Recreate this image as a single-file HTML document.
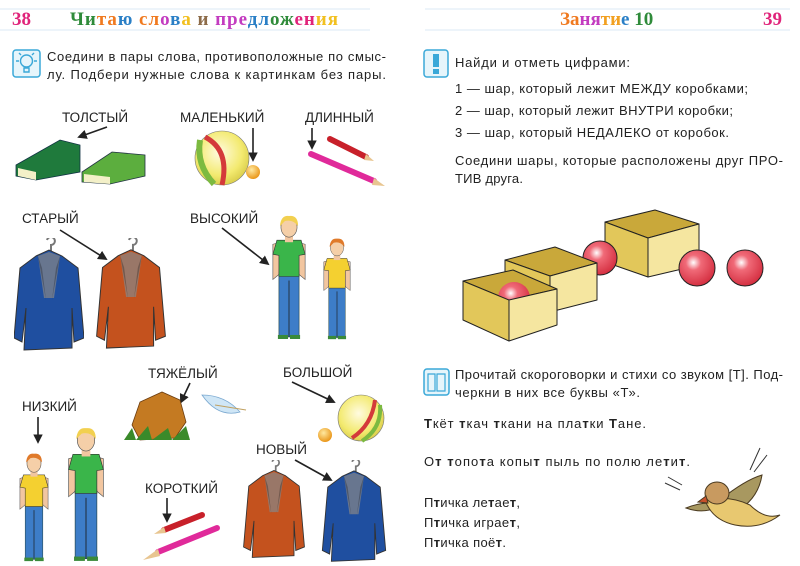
<!DOCTYPE html>
<html><head><meta charset="utf-8"><style>
html,body{margin:0;padding:0;background:#fff;}
svg{display:block;}
text{font-family:"Liberation Sans","Noto Sans CJK SC",sans-serif;}
.t{font-size:13px;fill:#222;}
.l{font-size:13.5px;fill:#222;}
.h{font-family:"Liberation Serif","Noto Serif CJK SC",serif;font-weight:bold;font-size:19px;}
.a{stroke:#222;stroke-width:1.6;fill:none;marker-end:url(#ar);}
</style></head><body>
<svg width="800" height="566" viewBox="0 0 800 566" xmlns="http://www.w3.org/2000/svg">
<defs>
<marker id="ar" viewBox="0 0 10 10" refX="8" refY="5" markerWidth="6" markerHeight="6" orient="auto"><path d="M0,0L10,5L0,10z" fill="#222"/></marker>
<radialGradient id="rb" cx="0.4" cy="0.35" r="0.7"><stop offset="0" stop-color="#fff"/><stop offset="0.3" stop-color="#f06a78"/><stop offset="1" stop-color="#d22a3c"/></radialGradient>
<radialGradient id="yb" cx="0.45" cy="0.4" r="0.7"><stop offset="0" stop-color="#fffbe0"/><stop offset="0.6" stop-color="#f3ea70"/><stop offset="1" stop-color="#cfc13a"/></radialGradient>
<radialGradient id="ob" cx="0.4" cy="0.35" r="0.7"><stop offset="0" stop-color="#ffe9a0"/><stop offset="1" stop-color="#e8900f"/></radialGradient>
<symbol id="jacket" viewBox="0 0 70 115">
<path d="M33,2 a4,4 0 1 1 4,5 v6" stroke="#777" stroke-width="2" fill="none"/>
<path d="M22,18 L35,12 L48,18 L64,30 L70,100 L60,104 L58,70 L58,110 L10,112 L12,70 L8,104 L0,100 L6,30 Z" fill="currentColor" stroke="#333" stroke-width="1"/>
<path d="M24,18 L35,14 L46,18 L40,60 L30,60 Z" fill="#888" opacity="0.7"/>
<path d="M24,18 L32,62 L28,30Z M46,18 L38,62 L42,30Z" fill="#000" opacity="0.25"/>
</symbol>
<symbol id="boy" viewBox="0 0 40 125">
<path d="M4,30 L12,28 L10,60 L4,65 Z M36,30 L28,28 L30,60 L36,65Z" fill="#f2c6a0" stroke="#555" stroke-width="0.6"/>
<rect x="10" y="60" width="20" height="62" fill="#3d7dc8" stroke="#244" stroke-width="0.6"/>
<line x1="20" y1="66" x2="20" y2="122" stroke="#234" stroke-width="1"/>
<path d="M8,26 L32,26 L36,40 L30,41 L30,62 L10,62 L10,41 L4,40 Z" fill="var(--sh)" stroke="#333" stroke-width="0.6"/>
<rect x="16" y="20" width="8" height="8" fill="#f2c6a0"/>
<ellipse cx="20" cy="13" rx="8" ry="10" fill="#f5cfa8" stroke="#555" stroke-width="0.6"/>
<path d="M11,12 Q12,1 20,2 Q29,1 29,12 Q24,5 16,7 Z" fill="var(--hr)"/>
<rect x="9" y="120" width="10" height="4" fill="#3a8a3a"/><rect x="21" y="120" width="10" height="4" fill="#3a8a3a"/>
</symbol>
</defs>

<g stroke="#cfe2f0" stroke-width="0.8">
<line x1="0" y1="9" x2="370" y2="9"/><line x1="0" y1="30" x2="370" y2="30"/>
<line x1="425" y1="9" x2="790" y2="9"/><line x1="425" y1="30" x2="790" y2="30"/>
</g>
<text x="12" y="25" class="h" fill="#e0247a">38</text>
<text x="70" y="25" class="h" textLength="268" lengthAdjust="spacing"><tspan fill="#2f8b3a">Чи</tspan><tspan fill="#f07a20">та</tspan><tspan fill="#2a7fc6">ю</tspan> <tspan fill="#f07a20">сл</tspan><tspan fill="#c33cc0">о</tspan><tspan fill="#2a7fc6">в</tspan><tspan fill="#f2c020">а</tspan> <tspan fill="#8d6c4a">и</tspan> <tspan fill="#c33cc0">пре</tspan><tspan fill="#2a7fc6">дл</tspan><tspan fill="#2f8b3a">ож</tspan><tspan fill="#e0247a">ен</tspan><tspan fill="#f2c020">ия</tspan></text>
<text x="560" y="25" class="h"><tspan fill="#f07a20">За</tspan><tspan fill="#c33cc0">ня</tspan><tspan fill="#f2a020">ти</tspan><tspan fill="#2a7fc6">е</tspan> <tspan fill="#2f8b3a">10</tspan></text>
<text x="763" y="25" class="h" fill="#e0247a">39</text>

<rect x="13" y="50" width="27" height="27" rx="3" fill="#e6f5fb" stroke="#3aa8d8" stroke-width="1.5"/>
<circle cx="26.5" cy="61" r="6" fill="none" stroke="#3aa8d8" stroke-width="1.4"/>
<path d="M24,68 h5 v4 h-5z M16,61h3 M34,61h3 M19,53l2,2 M34,53l-2,2" stroke="#3aa8d8" stroke-width="1.4" fill="none"/>
<text x="47" y="61" class="t" textLength="339" lengthAdjust="spacing">Соедини в пары слова, противоположные по смыс-</text>
<text x="47" y="79" class="t" textLength="339" lengthAdjust="spacing">лу. Подбери нужные слова к картинкам без пары.</text>

<text x="62" y="122" class="l">ТОЛСТЫЙ</text>
<text x="180" y="122" class="l">МАЛЕНЬКИЙ</text>
<text x="305" y="122" class="l">ДЛИННЫЙ</text>
<text x="22" y="223" class="l">СТАРЫЙ</text>
<text x="190" y="223" class="l">ВЫСОКИЙ</text>
<text x="148" y="378" class="l">ТЯЖЁЛЫЙ</text>
<text x="283" y="377" class="l">БОЛЬШОЙ</text>
<text x="22" y="411" class="l">НИЗКИЙ</text>
<text x="256" y="454" class="l">НОВЫЙ</text>
<text x="145" y="493" class="l">КОРОТКИЙ</text>

<line x1="107" y1="127" x2="79" y2="137" class="a"/>
<line x1="253" y1="128" x2="253" y2="160" class="a"/>
<line x1="312" y1="128" x2="312" y2="148" class="a"/>
<line x1="60" y1="230" x2="106" y2="259" class="a"/>
<line x1="222" y1="228" x2="268" y2="264" class="a"/>
<line x1="38" y1="417" x2="38" y2="442" class="a"/>
<line x1="190" y1="383" x2="181" y2="402" class="a"/>
<line x1="292" y1="382" x2="334" y2="402" class="a"/>
<line x1="295" y1="460" x2="331" y2="480" class="a"/>
<line x1="167" y1="498" x2="167" y2="521" class="a"/>

<path d="M16,165 L60,140 L80,145 L80,172 L36,180 L16,176Z" fill="#1f7a3c" stroke="#134" stroke-width="0.8"/>
<path d="M18,168 L36,172 L36,180 L18,176Z" fill="#f3f0c8"/>
<path d="M82,172 L112,152 L145,155 L145,176 L110,184 L82,182Z" fill="#5cae3e" stroke="#234" stroke-width="0.8"/>
<path d="M84,174 L110,177 L110,184 L84,182Z" fill="#f3f0c8"/>

<circle cx="222" cy="158" r="27" fill="url(#yb)" stroke="#777" stroke-width="0.6"/>
<path d="M205,137 Q230,150 222,185" stroke="#d43a3a" stroke-width="5" fill="none"/>
<path d="M200,140 Q196,165 214,184" stroke="#7cba40" stroke-width="6" fill="none"/>
<circle cx="253" cy="172" r="7" fill="url(#ob)"/>

<line x1="330" y1="139" x2="366" y2="157" stroke="#c8202a" stroke-width="6" stroke-linecap="round"/>
<path d="M366,154 L374,161 L364,160Z" fill="#e8c590"/>
<line x1="311" y1="154" x2="374" y2="181" stroke="#e02a9a" stroke-width="6" stroke-linecap="round"/>
<path d="M374,178 L385,186 L372,185Z" fill="#e8c590"/>

<use href="#jacket" x="14" y="238" width="70" height="115" style="color:#1f4fa0"/>
<use href="#jacket" x="93" y="238" width="76" height="113" style="color:#c4521e"/>
<use href="#boy" x="268" y="214" width="42" height="126" style="--sh:#3ab54a;--hr:#f2d050"/>
<use href="#boy" x="317" y="237" width="40" height="103" style="--sh:#f4d030;--hr:#e07a2a"/>

<path d="M132,425 L140,402 L162,392 L180,400 L186,422 L175,438 L140,440Z" fill="#c47a22" stroke="#6a3c10" stroke-width="0.8"/>
<path d="M124,440 L132,428 L136,440 L148,426 L152,440 L168,428 L172,440 L186,426 L190,440Z" fill="#3a8a2a"/>
<path d="M202,395 Q225,395 240,412 Q218,418 202,395Z" fill="#cfe6f6" stroke="#7aa8d0" stroke-width="0.8"/>
<line x1="215" y1="405" x2="246" y2="410" stroke="#c0a060" stroke-width="1"/>

<circle cx="361" cy="418" r="23" fill="url(#yb)" stroke="#777" stroke-width="0.6"/>
<path d="M375,400 Q372,425 352,438" stroke="#d43a3a" stroke-width="4" fill="none"/>
<path d="M380,405 Q382,428 362,441" stroke="#7cba40" stroke-width="4" fill="none"/>
<circle cx="325" cy="435" r="7" fill="url(#ob)"/>

<use href="#boy" x="13" y="452" width="42" height="110" style="--sh:#f4d030;--hr:#e07a2a"/>
<use href="#boy" x="64" y="426" width="44" height="136" style="--sh:#3ab54a;--hr:#f2d050"/>

<line x1="202" y1="515" x2="164" y2="530" stroke="#c8202a" stroke-width="6" stroke-linecap="round"/>
<path d="M164,527 L154,534 L166,533Z" fill="#e8c590"/>
<line x1="217" y1="528" x2="158" y2="552" stroke="#e02a9a" stroke-width="6" stroke-linecap="round"/>
<path d="M158,549 L143,560 L160,556Z" fill="#e8c590"/>

<use href="#jacket" x="242" y="460" width="64" height="100" style="color:#c4521e"/>
<use href="#jacket" x="320" y="460" width="68" height="104" style="color:#1f4fa0"/>

<rect x="424" y="50" width="24" height="27" rx="3" fill="#e6f5fb" stroke="#3aa8d8" stroke-width="1.5"/>
<rect x="433" y="54" width="6" height="13" fill="#3aa8d8"/><rect x="433" y="69" width="6" height="5" fill="#3aa8d8"/>
<text x="455" y="67" class="t" textLength="175" lengthAdjust="spacing">Найди и отметь цифрами:</text>
<text x="455" y="93" class="t" textLength="293" lengthAdjust="spacing">1 — шар, который лежит МЕЖДУ коробками;</text>
<text x="455" y="115" class="t" textLength="278" lengthAdjust="spacing">2 — шар, который лежит ВНУТРИ коробки;</text>
<text x="455" y="137" class="t" textLength="274" lengthAdjust="spacing">3 — шар, который НЕДАЛЕКО от коробок.</text>
<text x="455" y="165" class="t" textLength="328" lengthAdjust="spacing">Соедини шары, которые расположены друг ПРО-</text>
<text x="455" y="183" class="t" textLength="68" lengthAdjust="spacing">ТИВ друга.</text>

<g stroke="#222" stroke-width="1" stroke-linejoin="round">
<path d="M605,222 L655,210 L699,224 L648,238Z" fill="#c9a83a"/>
<path d="M605,222 L648,238 L648,277 L605,262Z" fill="#e2c75a"/>
<path d="M648,238 L699,224 L699,265 L648,277Z" fill="#f5e6a0"/>
<circle cx="600" cy="258" r="17" fill="url(#rb)"/>
<path d="M505,260 L555,247 L597,263 L550,276Z" fill="#c9a83a"/>
<path d="M505,260 L550,276 L550,312 L505,296Z" fill="#e2c75a"/>
<path d="M550,276 L597,263 L597,300 L550,312Z" fill="#f5e6a0"/>
<path d="M463,281 L513,270 L557,289 L509,300Z" fill="#c9a83a"/>
<circle cx="514" cy="298" r="16" fill="url(#rb)" stroke="none"/>
<path d="M463,281 L509,300 L509,341 L463,320Z" fill="#e2c75a"/>
<path d="M509,300 L557,289 L557,325 L509,341Z" fill="#f5e6a0"/>
<circle cx="697" cy="268" r="18" fill="url(#rb)"/>
<circle cx="745" cy="268" r="18" fill="url(#rb)"/>
</g>

<rect x="424" y="369" width="25" height="26" rx="3" fill="#e6f5fb" stroke="#3aa8d8" stroke-width="1.5"/>
<path d="M428,374 h7 v17 h-7z M437,374 h8 v17 h-8z" fill="none" stroke="#3aa8d8" stroke-width="1.2"/>
<text x="455" y="379" class="t" textLength="328" lengthAdjust="spacing">Прочитай скороговорки и стихи со звуком [Т]. Под-</text>
<text x="455" y="397" class="t" textLength="185" lengthAdjust="spacing">черкни в них все буквы «Т».</text>
<text x="424" y="428" class="t" textLength="222" lengthAdjust="spacing"><tspan font-weight="bold">Т</tspan>кёт <tspan font-weight="bold">т</tspan>кач <tspan font-weight="bold">т</tspan>кани на пла<tspan font-weight="bold">т</tspan>ки <tspan font-weight="bold">Т</tspan>ане.</text>
<text x="424" y="466" class="t" textLength="266" lengthAdjust="spacing">О<tspan font-weight="bold">т</tspan> <tspan font-weight="bold">т</tspan>опо<tspan font-weight="bold">т</tspan>а копы<tspan font-weight="bold">т</tspan> пыль по полю ле<tspan font-weight="bold">т</tspan>и<tspan font-weight="bold">т</tspan>.</text>
<text x="424" y="507" class="t" textLength="96" lengthAdjust="spacing">П<tspan font-weight="bold">т</tspan>ичка ле<tspan font-weight="bold">т</tspan>ае<tspan font-weight="bold">т</tspan>,</text>
<text x="424" y="527" class="t" textLength="96" lengthAdjust="spacing">П<tspan font-weight="bold">т</tspan>ичка играе<tspan font-weight="bold">т</tspan>,</text>
<text x="424" y="547" class="t" textLength="82" lengthAdjust="spacing">П<tspan font-weight="bold">т</tspan>ичка поё<tspan font-weight="bold">т</tspan>.</text>

<g stroke="#4a3a20" stroke-width="1">
<path d="M720,500 Q745,480 762,475 Q758,500 735,512Z" fill="#a89860"/>
<path d="M686,508 Q705,500 722,505 Q705,515 686,508Z" fill="#a89860"/>
<path d="M705,500 Q730,495 750,505 Q765,520 780,515 Q760,530 735,525 Q712,520 705,500Z" fill="#e8c870"/>
<ellipse cx="717" cy="493" rx="12" ry="11" fill="#c89a60"/>
<path d="M706,496 L698,502 L708,503Z" fill="#c8502a"/>
</g>
<path d="M750,470 L760,448 M754,472 L767,455 M665,483 L680,490 M668,477 L682,485" stroke="#333" stroke-width="1" fill="none"/>
</svg>
</body></html>
